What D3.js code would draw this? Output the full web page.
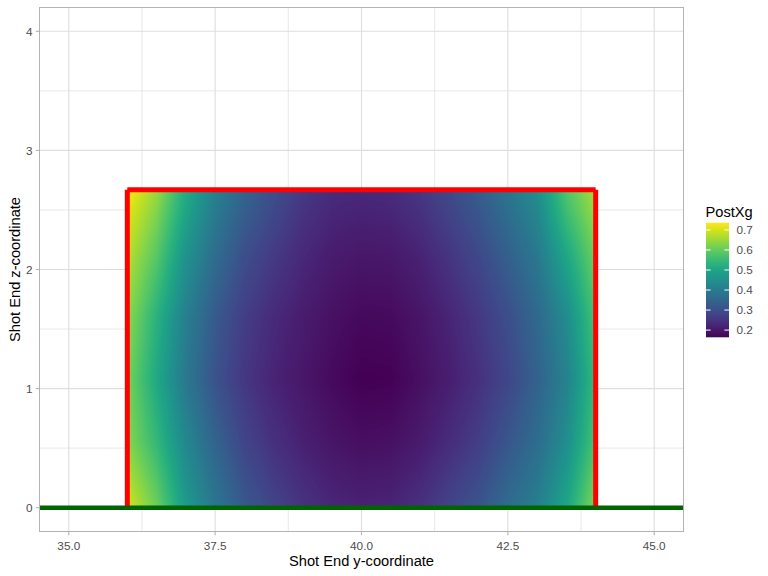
<!DOCTYPE html>
<html><head><meta charset="utf-8">
<script src="https://cdn.jsdelivr.net/npm/d3@7"></script>
<style>body{margin:0;background:#fff} svg{display:block} text{font-family:"Liberation Sans",Arial,sans-serif}</style>
</head><body><svg id="c" width="768" height="576"></svg>
<script>
// ---- data ----
const shotY = [36, 36.5, 37, 37.5, 38, 38.5, 39, 39.5, 40, 40.5, 41, 41.5, 42, 42.5, 43, 43.5, 44];
const shotZ = [0, 0.55, 1.08, 1.6, 2.1, 2.5, 2.67];
const postXgZ0    = [0.700, 0.610, 0.475, 0.390, 0.322, 0.280, 0.248, 0.226, 0.218, 0.222, 0.243, 0.280, 0.312, 0.364, 0.410, 0.500, 0.635];
const postXgZ055  = [0.635, 0.545, 0.430, 0.345, 0.282, 0.243, 0.215, 0.195, 0.185, 0.188, 0.205, 0.235, 0.268, 0.315, 0.365, 0.445, 0.575];
const postXgZ108  = [0.620, 0.507, 0.393, 0.310, 0.255, 0.220, 0.198, 0.178, 0.164, 0.166, 0.186, 0.210, 0.243, 0.284, 0.340, 0.416, 0.550];
const postXgZ16   = [0.640, 0.530, 0.410, 0.325, 0.268, 0.232, 0.207, 0.188, 0.177, 0.179, 0.195, 0.222, 0.257, 0.300, 0.355, 0.440, 0.572];
const postXgZ21   = [0.675, 0.585, 0.455, 0.365, 0.300, 0.260, 0.228, 0.206, 0.198, 0.200, 0.218, 0.250, 0.287, 0.335, 0.392, 0.500, 0.610];
const postXgZ25   = [0.714, 0.630, 0.500, 0.400, 0.335, 0.290, 0.250, 0.226, 0.220, 0.225, 0.245, 0.280, 0.318, 0.370, 0.430, 0.560, 0.650];
const postXgZ267  = [0.736, 0.650, 0.515, 0.415, 0.345, 0.300, 0.260, 0.235, 0.230, 0.234, 0.254, 0.290, 0.330, 0.383, 0.445, 0.580, 0.665];
const postXgRows = [postXgZ0, postXgZ055, postXgZ108, postXgZ16, postXgZ21, postXgZ25, postXgZ267];

const goalY = [36, 44];
const crossbarZ = 2.67;
const groundY = [34, 46];
const xTicks = [35, 37.5, 40, 42.5, 45];
const xMinor = [36.25, 38.75, 41.25, 43.75];
const yTicks = [0, 1, 2, 3, 4];
const yMinor = [0.5, 1.5, 2.5, 3.5];
const legendTicks = [0.2, 0.3, 0.4, 0.5, 0.6, 0.7];

// ---- layout ----
const svg = d3.select('#c');
const L = 39.5, R = 683.5, T = 7.5, B = 531.5;
const x = d3.scaleLinear().domain([34.5, 45.5]).range([L, R]);
const y = d3.scaleLinear().domain([-0.2, 4.2]).range([B, T]);
const allVals = postXgRows.flat();
const ext = d3.extent(allVals);
const color = d3.scaleSequential(d3.interpolateViridis).domain(ext);

const defs = svg.append('defs');
defs.append('clipPath').attr('id', 'panel').append('rect')
  .attr('x', L).attr('y', T).attr('width', R - L).attr('height', B - T);

// grid
const grid = svg.append('g');
grid.selectAll('.xm').data(xMinor).join('line')
  .attr('x1', d => x(d)).attr('x2', d => x(d)).attr('y1', T).attr('y2', B)
  .attr('stroke', '#e3e3e3').attr('stroke-width', 0.8);
grid.selectAll('.ym').data(yMinor).join('line')
  .attr('y1', d => y(d)).attr('y2', d => y(d)).attr('x1', L).attr('x2', R)
  .attr('stroke', '#e3e3e3').attr('stroke-width', 0.8);
grid.selectAll('.xM').data(xTicks).join('line')
  .attr('x1', d => x(d)).attr('x2', d => x(d)).attr('y1', T).attr('y2', B)
  .attr('stroke', '#dedede').attr('stroke-width', 1.1);
grid.selectAll('.yM').data(yTicks).join('line')
  .attr('y1', d => y(d)).attr('y2', d => y(d)).attr('x1', L).attr('x2', R)
  .attr('stroke', '#dedede').attr('stroke-width', 1.1);

// heatmap raster (bilinear between the read grid values, like an interpolated raster)
function valueAt(yy, zz) {
  let i = Math.min(Math.max(d3.bisectRight(shotY, yy) - 1, 0), shotY.length - 2);
  let j = Math.min(Math.max(d3.bisectRight(shotZ, zz) - 1, 0), shotZ.length - 2);
  const ty = Math.min(Math.max((yy - shotY[i]) / (shotY[i + 1] - shotY[i]), 0), 1);
  const tz = Math.min(Math.max((zz - shotZ[j]) / (shotZ[j + 1] - shotZ[j]), 0), 1);
  const a = postXgRows[j][i], b = postXgRows[j][i + 1];
  const c = postXgRows[j + 1][i], d = postXgRows[j + 1][i + 1];
  return (a * (1 - ty) + b * ty) * (1 - tz) + (c * (1 - ty) + d * ty) * tz;
}
const x0 = x(shotY[0]), x1 = x(shotY[shotY.length - 1]);
const y0 = y(shotZ[shotZ.length - 1]), y1 = y(shotZ[0]);
const cw = Math.ceil(x1 - x0), ch = Math.ceil(y1 - y0);
const cv = document.createElement('canvas');
cv.width = cw; cv.height = ch;
const ctx = cv.getContext('2d');
const img = ctx.createImageData(cw, ch);
for (let j = 0; j < ch; j++) {
  const zz = y.invert(y0 + (j + 0.5) * (y1 - y0) / ch);
  for (let i = 0; i < cw; i++) {
    const yy = x.invert(x0 + (i + 0.5) * (x1 - x0) / cw);
    const col = d3.rgb(color(valueAt(yy, zz)));
    const k = (j * cw + i) * 4;
    img.data[k] = col.r; img.data[k + 1] = col.g; img.data[k + 2] = col.b; img.data[k + 3] = 255;
  }
}
ctx.putImageData(img, 0, 0);
svg.append('image').attr('href', cv.toDataURL())
  .attr('x', x0).attr('y', y0).attr('width', x1 - x0).attr('height', y1 - y0)
  .attr('preserveAspectRatio', 'none');

// goal frame
const goal = svg.append('g').attr('clip-path', 'url(#panel)');
const red = '#ff0000';
goal.append('line').attr('x1', x(goalY[0])).attr('x2', x(goalY[0])).attr('y1', y(0)).attr('y2', y(crossbarZ))
  .attr('stroke', red).attr('stroke-width', 5);
goal.append('line').attr('x1', x(goalY[1])).attr('x2', x(goalY[1])).attr('y1', y(0)).attr('y2', y(crossbarZ))
  .attr('stroke', red).attr('stroke-width', 5);
goal.append('line').attr('x1', x(goalY[0])).attr('x2', x(goalY[1])).attr('y1', y(crossbarZ)).attr('y2', y(crossbarZ))
  .attr('stroke', red).attr('stroke-width', 5);
// ground line
goal.append('line').attr('x1', x(groundY[0])).attr('x2', x(groundY[1])).attr('y1', y(0)).attr('y2', y(0))
  .attr('stroke', '#006400').attr('stroke-width', 4.6);

// panel border
svg.append('rect').attr('x', L).attr('y', T).attr('width', R - L).attr('height', B - T)
  .attr('fill', 'none').attr('stroke', '#b3b3b3').attr('stroke-width', 1);

// axes ticks + labels
const ax = svg.append('g');
ax.selectAll('.xt').data(xTicks).join('line')
  .attr('x1', d => x(d)).attr('x2', d => x(d)).attr('y1', B).attr('y2', B + 3.7)
  .attr('stroke', '#b3b3b3').attr('stroke-width', 1.1);
ax.selectAll('.xl').data(xTicks).join('text')
  .attr('x', d => x(d)).attr('y', 549.5).attr('text-anchor', 'middle')
  .attr('font-size', '11.73px').attr('fill', '#4d4d4d').text(d => d.toFixed(1));
ax.selectAll('.yt').data(yTicks).join('line')
  .attr('y1', d => y(d)).attr('y2', d => y(d)).attr('x1', L - 3.7).attr('x2', L)
  .attr('stroke', '#b3b3b3').attr('stroke-width', 1.1);
ax.selectAll('.yl').data(yTicks).join('text')
  .attr('x', 32.5).attr('y', d => y(d)).attr('dy', '0.36em').attr('text-anchor', 'end')
  .attr('font-size', '11.73px').attr('fill', '#4d4d4d').text(d => d);

svg.append('text').attr('x', (L + R) / 2).attr('y', 566).attr('text-anchor', 'middle')
  .attr('font-size', '14.67px').attr('fill', '#000').text('Shot End y-coordinate');
svg.append('text').attr('transform', `translate(19.5,${(T + B) / 2}) rotate(-90)`).attr('text-anchor', 'middle')
  .attr('font-size', '14.67px').attr('fill', '#000').text('Shot End z-coordinate');

// legend
const lg = svg.append('g');
const barX = 706, barW = 23, barTop = 222.7, barH = 114.6;
const ly = d3.scaleLinear().domain(ext).range([barTop + barH, barTop]);
const grad = defs.append('linearGradient').attr('id', 'vg').attr('x1', 0).attr('y1', 1).attr('x2', 0).attr('y2', 0);
d3.range(0, 1.0001, 0.05).forEach(t => grad.append('stop').attr('offset', t).attr('stop-color', d3.interpolateViridis(t)));
lg.append('text').attr('x', 705.5).attr('y', 216.5).attr('font-size', '14.67px').attr('fill', '#000').text('PostXg');
lg.append('rect').attr('x', barX).attr('y', barTop).attr('width', barW).attr('height', barH).attr('fill', 'url(#vg)');
lg.selectAll('.lt1').data(legendTicks).join('line')
  .attr('x1', barX).attr('x2', barX + 4.6).attr('y1', d => ly(d)).attr('y2', d => ly(d))
  .attr('stroke', '#fff').attr('stroke-width', 1);
lg.selectAll('.lt2').data(legendTicks).join('line')
  .attr('x1', barX + barW - 4.6).attr('x2', barX + barW).attr('y1', d => ly(d)).attr('y2', d => ly(d))
  .attr('stroke', '#fff').attr('stroke-width', 1);
lg.selectAll('.ll').data(legendTicks).join('text')
  .attr('x', 736.5).attr('y', d => ly(d)).attr('dy', '0.36em')
  .attr('font-size', '11.73px').attr('fill', '#4d4d4d').text(d => d.toFixed(1));
</script></body></html>
